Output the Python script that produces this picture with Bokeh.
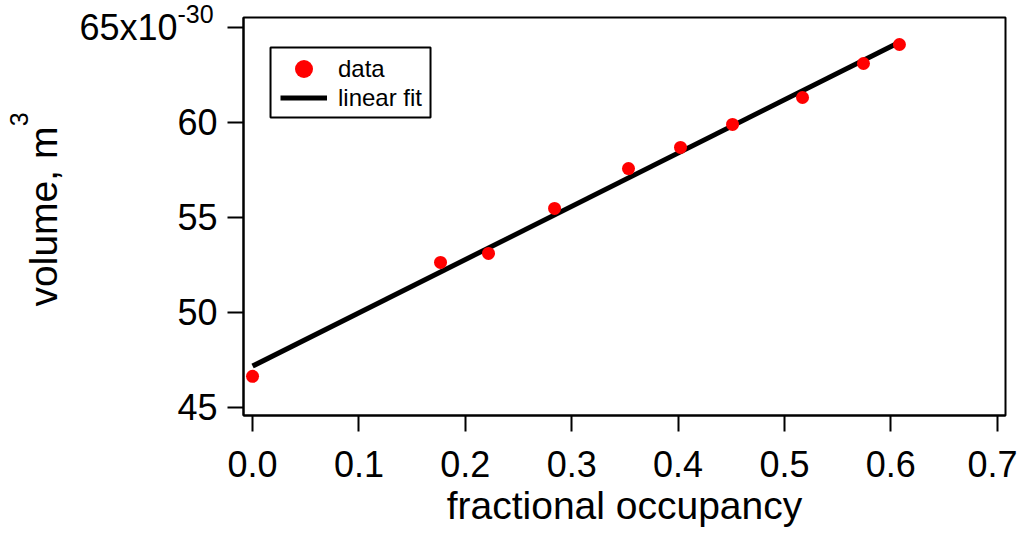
from bokeh.plotting import figure
from bokeh.models import (Range1d, FixedTicker, PrintfTickFormatter, Legend,
                          LegendItem, Title, BoxAnnotation, ColumnDataSource,
                          LinearAxis)
from bokeh.embed import file_html
from bokeh.resources import INLINE

# ---- data ----
occupancy = [0.0, 0.1767, 0.2218, 0.2839, 0.3534, 0.4023, 0.4512, 0.5170, 0.5743, 0.6081]
volume = [46.62, 52.62, 53.09, 55.46, 57.56, 58.67, 59.88, 61.30, 63.09, 64.09]
fit_x = [0.0, 0.6081]
fit_y = [47.16, 64.21]
x_ticks = [0.0, 0.1, 0.2, 0.3, 0.4, 0.5, 0.6, 0.7]
y_ticks = [45, 50, 55, 60, 65]
x_start, x_end = -0.0085, 0.7078
y_start, y_end = 44.56, 65.51

FONT = "Liberation Sans"
NBSP = "\u00a0"

p = figure(width=1017, height=532,
           x_range=Range1d(x_start, x_end), y_range=Range1d(y_start, y_end),
           output_backend="svg", toolbar_location=None,
           min_border_left=243, min_border_right=12,
           min_border_top=17, min_border_bottom=117,
           background_fill_color="white", border_fill_color="white")

p.grid.visible = False
p.outline_line_color = "black"
p.outline_line_width = 2
p.outline_line_alpha = 1.0

fit_src = ColumnDataSource(dict(x=fit_x, y=fit_y))
pts_src = ColumnDataSource(dict(x=occupancy, y=volume))
r_fit = p.line("x", "y", source=fit_src, line_color="black", line_width=5)
r_pts = p.scatter("x", "y", source=pts_src, size=13, fill_color="#ff0000",
                  line_color=None, marker="circle")

for ax in (p.xaxis[0], p.yaxis[0]):
    ax.axis_line_width = 2
    ax.axis_line_color = "black"
    ax.major_tick_out = 16
    ax.major_tick_in = 0
    ax.major_tick_line_width = 2
    ax.major_tick_line_color = "black"
    ax.minor_tick_line_color = None
    ax.major_label_text_font = FONT
    ax.major_label_text_font_size = "36px"
    ax.major_label_text_color = "black"
    ax.axis_label_text_font = FONT
    ax.axis_label_text_font_size = "39px"
    ax.axis_label_text_font_style = "normal"
    ax.axis_label_text_color = "black"

xa = p.xaxis[0]
xa.ticker = FixedTicker(ticks=x_ticks)
xa.formatter = PrintfTickFormatter(format="%.1f")
xa.major_label_standoff = 19
xa.axis_label = "fractional occupancy"
xa.axis_label_standoff = 4

ya = p.yaxis[0]
ya.ticker = FixedTicker(ticks=y_ticks)
ya.major_label_overrides = {65: "65x10" + NBSP * 4}
ya.major_label_standoff = 10
ya.axis_label = "volume, m"
ya.axis_label_standoff = 11

# superscript "3" of the unit: label of a bare outer left axis, pushed to the
# end of the label run with no-break spaces so it sits just after "m"
sup_axis = LinearAxis(ticker=FixedTicker(ticks=[]), axis_line_color=None,
                      major_tick_out=0, major_tick_in=0, minor_tick_out=0,
                      minor_tick_in=0, major_label_standoff=0,
                      axis_label=NBSP * 28 + "3", axis_label_standoff=-13,
                      axis_label_text_font=FONT, axis_label_text_font_size="25px",
                      axis_label_text_font_style="normal",
                      axis_label_text_color="black")
p.add_layout(sup_axis, "left")

# superscript exponent of the top tick label (a title above the frame)
p.add_layout(Title(text="-30", align="left", offset=-66, standoff=-14,
                   vertical_align="top",
                   text_font=FONT, text_font_size="25px",
                   text_font_style="normal", text_color="black"), "above")

# legend frame
p.add_layout(BoxAnnotation(left=0.0169, right=0.1673, bottom=60.25, top=63.93,
                           fill_color="white", fill_alpha=1.0,
                           line_color="black", line_width=2, line_alpha=1.0))

leg_common = dict(padding=0, margin=0, label_standoff=11,
                  label_text_font=FONT, label_text_font_size="24px",
                  label_text_color="black", border_line_color=None,
                  background_fill_alpha=0.0)
p.add_layout(Legend(items=[LegendItem(label="data", renderers=[r_pts])],
                    location=(37, 324), glyph_width=47, glyph_height=45,
                    **leg_common), "center")
p.add_layout(Legend(items=[LegendItem(label="linear fit", renderers=[r_fit])],
                    location=(37, 303), glyph_width=47, glyph_height=29,
                    **leg_common), "center")

open("out.html", "w").write(file_html(p, INLINE))
